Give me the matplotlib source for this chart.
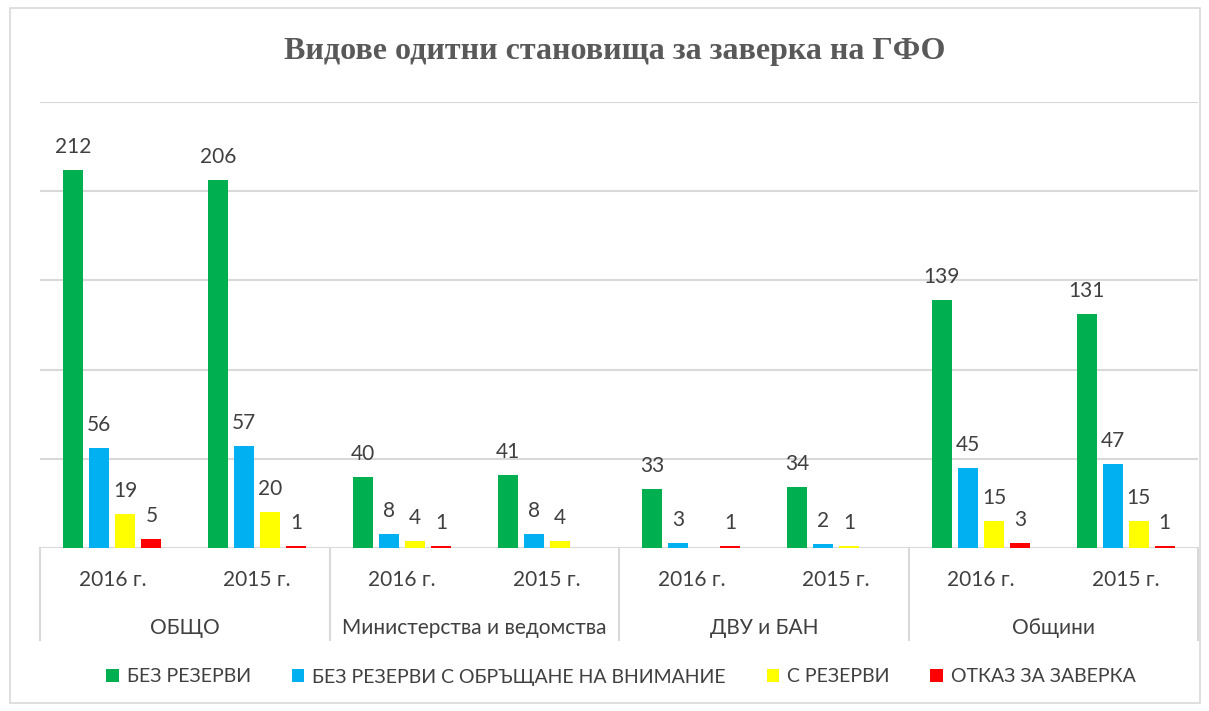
import matplotlib.pyplot as plt
from matplotlib.patches import Rectangle
import numpy as np

plt.rcParams['font.family'] = ['Lato', 'DejaVu Sans']

categories = ['ОБЩО', 'Министерства и ведомства', 'ДВУ и БАН', 'Общини']
years = ['2016 г.', '2015 г.']
series_names = ['БЕЗ РЕЗЕРВИ', 'БЕЗ РЕЗЕРВИ С ОБРЪЩАНЕ НА ВНИМАНИЕ', 'С РЕЗЕРВИ', 'ОТКАЗ ЗА ЗАВЕРКА']
bez_rezervi = [212, 206, 40, 41, 33, 34, 139, 131]
bez_rezervi_vnimanie = [56, 57, 8, 8, 3, 2, 45, 47]
s_rezervi = [19, 20, 4, 4, np.nan, 1, 15, 15]
otkaz = [5, 1, 1, np.nan, 1, np.nan, 3, 1]
colors = ['#00b050', '#00b0f0', '#ffff00', '#ff0000']

data = [bez_rezervi, bez_rezervi_vnimanie, s_rezervi, otkaz]

fig = plt.figure(figsize=(12.09, 7.11), dpi=100)
ax = fig.add_axes([40 / 1209, 1 - 548 / 711, 1158 / 1209, 446 / 711])

x = np.arange(8)
step = 0.18
width = 0.138
for i, (vals, c, name) in enumerate(zip(data, colors, series_names)):
    pos = x + (i - 1.5) * step
    ax.bar(pos, vals, width, color=c, label=name, zorder=3)
    for p, v in zip(pos, vals):
        if not np.isnan(v):
            ax.annotate(str(int(v)), (p, v), xytext=(0, 23), textcoords='offset pixels',
                        ha='center', va='center', fontsize=15, color='#404040')

ax.set_xlim(-0.5, 7.5)
ax.set_ylim(0, 250)
ax.set_yticks([0, 50, 100, 150, 200, 250])
ax.grid(axis='y', color='#d9d9d9', lw=1.5, zorder=0)
ax.tick_params(left=False, labelleft=False, bottom=False, labelbottom=False)
for s in ax.spines.values():
    s.set_visible(False)

# category axis boxes
trans = ax.get_xaxis_transform()
box_h = (640 - 548) / 446
for b in [-0.5, 1.5, 3.5, 5.5, 7.5]:
    ax.plot([b, b], [0, -box_h], transform=trans, color='#d9d9d9', lw=1.5, clip_on=False)
for xi, yr in zip(x, years * 4):
    ax.text(xi, -(580 - 548) / 446, yr, transform=trans, ha='center', va='center',
            fontsize=15, color='#404040')
for ci, cat in enumerate(categories):
    ax.text(ci * 2 + 0.5, -(628 - 548) / 446, cat, transform=trans, ha='center', va='center',
            fontsize=15, color='#404040')

fig.text(615 / 1209, 1 - 52 / 711, 'Видове одитни становища за заверка на ГФО', ha='center', va='center',
         fontsize=23, fontweight='bold', color='#595959', family=['Liberation Serif', 'DejaVu Serif'])

fig.legend(loc='center', bbox_to_anchor=(621 / 1209, 1 - 677 / 711), ncol=4, frameon=False,
           fontsize=14, handlelength=0.65, handleheight=0.65, handletextpad=0.4,
           columnspacing=2.1, labelcolor='#404040')

fig.patches.append(Rectangle((10 / 1209, 1 - 703 / 711), 1190 / 1209, 695 / 711,
                             transform=fig.transFigure, fill=False, edgecolor='#d9d9d9', lw=1.2))

fig.savefig('out.png', dpi=100)
